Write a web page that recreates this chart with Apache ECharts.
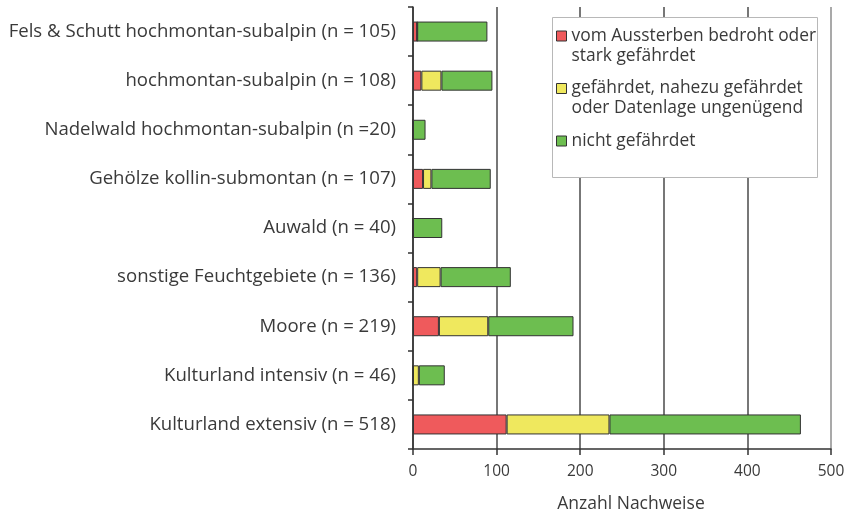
<!DOCTYPE html>
<html>
<head>
<meta charset="utf-8">
<script src="https://cdn.jsdelivr.net/npm/echarts@6/dist/echarts.min.js"></script>
<style>html,body{margin:0;padding:0;background:#fff}#c{width:856px;height:515px}</style>
</head>
<body>
<div id="c"></div>
<script>
const categories = [
  'Fels & Schutt hochmontan-subalpin (n = 105)',
  'hochmontan-subalpin (n = 108)',
  'Nadelwald hochmontan-subalpin (n =20)',
  'Gehölze kollin-submontan (n = 107)',
  'Auwald (n = 40)',
  'sonstige Feuchtgebiete (n = 136)',
  'Moore (n = 219)',
  'Kulturland intensiv (n = 46)',
  'Kulturland extensiv (n = 518)'
];
const seriesNames = [
  'vom Aussterben bedroht oder stark gefährdet',
  'gefährdet, nahezu gefährdet oder Datenlage ungenügend',
  'nicht gefährdet'
];
const legendLines = [
  'vom Aussterben bedroht oder\nstark gefährdet',
  'gefährdet, nahezu gefährdet\noder Datenlage ungenügend',
  'nicht gefährdet\n'
];
const bedroht   = [5, 10, 0, 12, 0, 5, 31, 0, 112];
const gefaehrdet = [0, 24, 0, 10, 0, 28, 59, 7, 123];
const nicht     = [84, 61, 15, 71, 35, 84, 102, 31, 229];
const xTicks = [0, 100, 200, 300, 400, 500];
const colors = ['#ef5a5c', '#efe85e', '#6dbe50'];

const chart = echarts.init(document.getElementById('c'));
const font = "'Open Sans', sans-serif";
const values = [bedroht, gefaehrdet, nicht];
chart.setOption({
  animation: false,
  textStyle: { fontFamily: font },
  grid: { left: 413, right: 25, top: 7, bottom: 66, containLabel: false, outerBoundsMode: 'none' },
  xAxis: {
    type: 'value', min: xTicks[0], max: xTicks[xTicks.length - 1], interval: 100,
    name: 'Anzahl Nachweise', nameLocation: 'middle', nameGap: 46,
    nameTextStyle: { fontSize: 17.5, color: '#3a3a3a', fontFamily: font, padding: [0, 0, 0, 18] },
    axisLine: { show: true, lineStyle: { color: '#333', width: 1.5 } },
    axisTick: { show: true, length: 6, lineStyle: { color: '#333', width: 1.5 } },
    axisLabel: { fontSize: 15.5, color: '#3a3a3a', margin: 15, fontFamily: font },
    splitLine: { show: true, lineStyle: { color: ['#4a4a4a', '#4a4a4a', '#4a4a4a', '#4a4a4a', '#4a4a4a', '#8c8c8c'], width: 1.5 } }
  },
  yAxis: {
    type: 'category', data: categories, inverse: true,
    axisLine: { show: true, lineStyle: { color: '#333', width: 1.5 } },
    axisTick: { show: true, length: 5, lineStyle: { color: '#333', width: 1.5 } },
    axisLabel: { fontSize: 18.6, color: '#3a3a3a', margin: 17, fontFamily: font }
  },
  legend: {
    orient: 'vertical', left: 556, top: 6, padding: 0, itemGap: -7.5,
    itemWidth: 10, itemHeight: 10,
    data: seriesNames.map((n) => ({ name: n, icon: 'rect',
      itemStyle: { borderColor: '#333', borderWidth: 1 } })),
    formatter: (name) => '\n' + legendLines[seriesNames.indexOf(name)],
    textStyle: { fontSize: 17.4, color: '#3a3a3a', lineHeight: 20, fontFamily: font },
    selectedMode: false
  },
  graphic: [{
    type: 'rect', z: 3, left: 552, top: 17,
    shape: { width: 265, height: 160 },
    style: { fill: '#fff', stroke: '#b8b8b8', lineWidth: 1 }
  }],
  series: seriesNames.map((n, i) => ({
    name: n, type: 'bar', stack: 'total', barWidth: 20,
    data: values[i],
    itemStyle: { color: colors[i], borderColor: '#333', borderWidth: 1 }
  }))
});
</script>
</body>
</html>
